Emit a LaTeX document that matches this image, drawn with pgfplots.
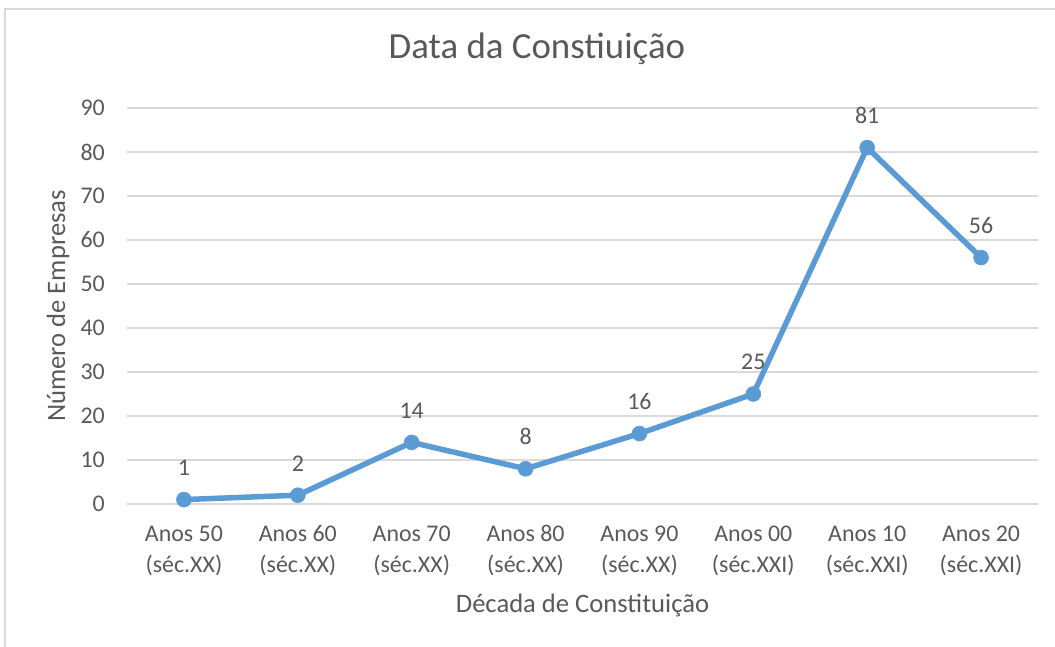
\documentclass[border=0pt]{standalone}
\usepackage{fontspec}
\setmainfont{Carlito}
\usepackage{pgfplots}
\pgfplotsset{compat=1.18}

\definecolor{serie}{HTML}{5B9BD5}
\definecolor{grelha}{HTML}{D9D9D9}
\definecolor{texto}{HTML}{595959}

\newcommand{\rot}[2]{\begin{tabular}{@{}c@{}}#1\\#2\end{tabular}}

\begin{document}
\begin{tikzpicture}[x=1bp,y=1bp]
\useasboundingbox (0,0) rectangle (1055,647);
% moldura da area do grafico
\draw[grelha, line width=2bp] (5,0) -- (5,638) -- (1055,638);
\begin{axis}[
    at={(127bp,143bp)}, anchor=south west,
    scale only axis,
    width=911bp, height=396bp,
    xmin=-0.5, xmax=7.5,
    ymin=0, ymax=90,
    ytick={0,10,...,90},
    xtick={0,...,7},
    xticklabels={\rot{Anos 50}{(séc.XX)},\rot{Anos 60}{(séc.XX)},\rot{Anos 70}{(séc.XX)},\rot{Anos 80}{(séc.XX)},
                 \rot{Anos 90}{(séc.XX)},\rot{Anos 00}{(séc.XXI)},\rot{Anos 10}{(séc.XXI)},\rot{Anos 20}{(séc.XXI)}},
    axis line style={draw=none},
    major tick length=0pt,
    ymajorgrids,
    grid style={grelha, line width=1.8bp},
    /pgf/number format/assume math mode=true,
    yticklabel style={font=\fontsize{24}{29}\selectfont, text=texto, anchor=east, inner sep=0pt, xshift=-22bp},
    xticklabel style={font=\fontsize{24}{31}\selectfont, text=texto, anchor=north, inner sep=0pt, yshift=-16bp},
    title={Data da Constiuição},
    title style={font=\fontsize{37}{44}\selectfont, text=texto, at={(axis description cs:0.45,1.134)}, anchor=center},
    xlabel={Década de Constituição},
    every axis x label/.style={at={(axis description cs:0.5,-0.2575)}, anchor=center, font=\fontsize{26.7}{32}\selectfont, text=texto},
    ylabel={Número de Empresas},
    every axis y label/.style={at={(axis description cs:-0.0757,0.5)}, rotate=90, anchor=center, font=\fontsize{26.7}{32}\selectfont, text=texto},
    nodes near coords,
    every node near coord/.append style={font=\fontsize{24}{29}\selectfont, text=texto, anchor=base, yshift=24bp},
    clip=false,
]
\addplot[serie, line width=5.5bp, mark=*, mark size=7.5bp, mark options={fill=serie, draw=serie, line width=0.5bp}]
coordinates {(0,1) (1,2) (2,14) (3,8) (4,16) (5,25) (6,81) (7,56)};
\end{axis}
\end{tikzpicture}
\end{document}
